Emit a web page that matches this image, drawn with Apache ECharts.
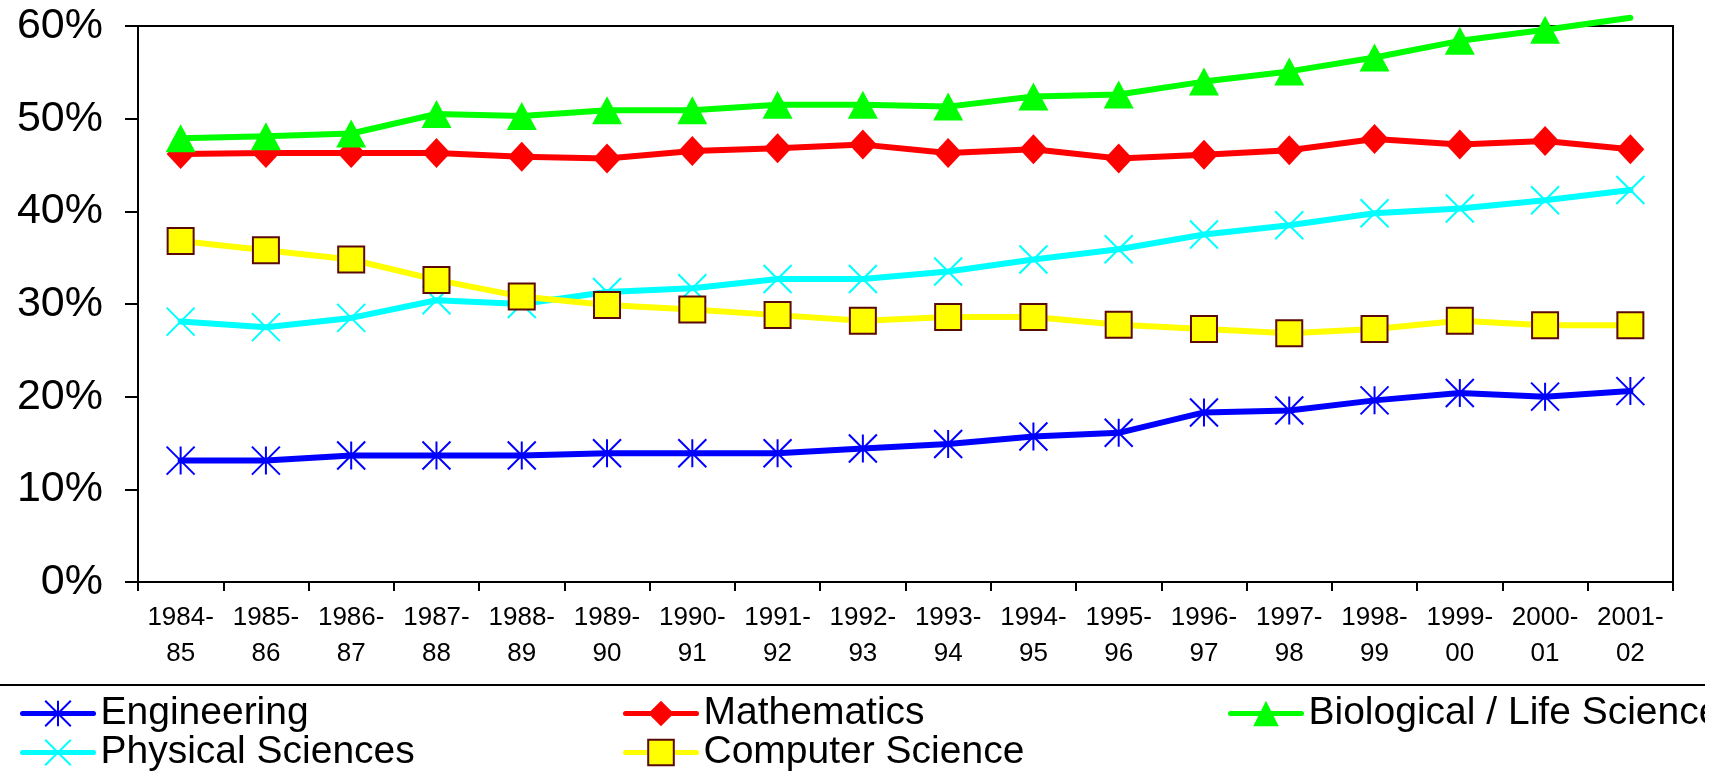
<!DOCTYPE html>
<html>
<head>
<meta charset="utf-8">
<script src="https://cdn.jsdelivr.net/npm/echarts@6/dist/echarts.min.js"></script>
<style>
  html, body { margin: 0; padding: 0; background: #fff; }
  #chart { width: 1705px; height: 771px; overflow: hidden; }
</style>
</head>
<body>
<div id="chart"></div>
<script>
// Academic years on the category axis
const years = ['1984-\n85', '1985-\n86', '1986-\n87', '1987-\n88', '1988-\n89', '1989-\n90',
  '1990-\n91', '1991-\n92', '1992-\n93', '1993-\n94', '1994-\n95', '1995-\n96',
  '1996-\n97', '1997-\n98', '1998-\n99', '1999-\n00', '2000-\n01', '2001-\n02'];

// Share of degrees earned by women, percent
const engineering = [13.1, 13.1, 13.65, 13.65, 13.65, 13.9, 13.9, 13.9, 14.4, 14.9, 15.7, 16.1, 18.3, 18.5, 19.6, 20.4, 20.0, 20.6];
const mathematics = [46.2, 46.3, 46.3, 46.3, 45.9, 45.7, 46.5, 46.8, 47.2, 46.3, 46.7, 45.7, 46.1, 46.6, 47.8, 47.2, 47.6, 46.7];
const biology = [47.9, 48.1, 48.4, 50.5, 50.3, 50.9, 50.9, 51.5, 51.5, 51.3, 52.4, 52.6, 54.0, 55.1, 56.6, 58.4, 59.6, 60.9];
const physical = [28.1, 27.5, 28.5, 30.4, 30.0, 31.3, 31.7, 32.7, 32.7, 33.5, 34.8, 35.9, 37.5, 38.5, 39.8, 40.3, 41.2, 42.3];
const computer = [36.8, 35.8, 34.8, 32.6, 30.8, 29.9, 29.4, 28.8, 28.2, 28.6, 28.6, 27.75, 27.3, 26.85, 27.3, 28.2, 27.7, 27.7];

const yTicks = { min: 0, max: 60, step: 10 };

const FONT = '"Liberation Sans", Arial, sans-serif';

// Points above the axis maximum keep their line but lose their marker
function withOffscaleMarkersHidden(values) {
  return values.map(v => (v > yTicks.max ? { value: v, symbol: 'none' } : v));
}

function lineSeries(name, values, color, symbol, size, itemStyle) {
  return {
    name: name,
    type: 'line',
    data: withOffscaleMarkersHidden(values),
    clip: false,
    symbol: symbol,
    symbolSize: size,
    showAllSymbol: true,
    lineStyle: { color: color, width: 6, cap: 'round', join: 'round' },
    itemStyle: itemStyle,
    emphasis: { disabled: true },
    z: 3
  };
}

const asterisk = 'path://M0,0L20,20M20,0L0,20M10,0L10,20';
const cross = 'path://M0,0L20,20M20,0L0,20';

const series = [
  lineSeries('Engineering', engineering, '#0000ff', asterisk, 28,
    { color: 'rgba(0,0,0,0)', borderColor: '#0000ff', borderWidth: 2 }),
  lineSeries('Mathematics', mathematics, '#ff0000', 'diamond', [28, 30],
    { color: '#ff0000' }),
  lineSeries('Biological / Life Sciences', biology, '#00ff00', 'triangle', [30, 28],
    { color: '#00ff00' }),
  lineSeries('Physical Sciences', physical, '#00ffff', cross, 28,
    { color: 'rgba(0,0,0,0)', borderColor: '#00ffff', borderWidth: 2 }),
  lineSeries('Computer Science', computer, '#ffff00', 'rect', [26, 26],
    { color: '#ffff00', borderColor: '#5a0a0a', borderWidth: 2 })
];

// One legend block per column, stacked two rows deep
function legendColumn(left, names) {
  return {
    orient: 'vertical',
    left: left,
    top: 694,
    height: 120,
    itemWidth: 71,
    itemHeight: 32,
    itemGap: 0,
    padding: 0,
    data: names,
    selectedMode: false,
    lineStyle: { width: 5, cap: 'round' },
    textStyle: {
      fontFamily: FONT, fontSize: 39, color: '#000', lineHeight: 38,
      padding: [0, 0, 0, 2]
    }
  };
}

const chart = echarts.init(document.getElementById('chart'), null, { renderer: 'canvas' });

chart.setOption({
  animation: false,
  backgroundColor: '#ffffff',
  grid: {
    left: 138, top: 26, width: 1535, height: 556,
    show: true, borderColor: '#000', borderWidth: 2, backgroundColor: 'transparent'
  },
  legend: [
    legendColumn(20, ['Engineering', 'Physical Sciences']),
    legendColumn(623, ['Mathematics', 'Computer Science']),
    legendColumn(1228, ['Biological / Life Sciences'])
  ],
  xAxis: {
    type: 'category',
    data: years,
    boundaryGap: true,
    axisLine: { lineStyle: { color: '#000', width: 2 } },
    axisTick: { show: true, length: 9, lineStyle: { color: '#000', width: 2 } },
    axisLabel: {
      interval: 0, margin: 18, color: '#000',
      fontFamily: FONT, fontSize: 26, lineHeight: 36
    },
    splitLine: { show: false }
  },
  yAxis: {
    type: 'value',
    min: yTicks.min, max: yTicks.max, interval: yTicks.step,
    axisLine: { show: true, lineStyle: { color: '#000', width: 2 } },
    axisTick: { show: true, length: 13, lineStyle: { color: '#000', width: 2 } },
    axisLabel: {
      formatter: '{value}%', margin: 35, color: '#000',
      fontFamily: FONT, fontSize: 43
    },
    splitLine: { show: false }
  },
  graphic: [{
    type: 'line',
    shape: { x1: 0, y1: 685, x2: 1705, y2: 685 },
    style: { stroke: '#000', lineWidth: 2 },
    silent: true
  }],
  series: series
});
</script>
</body>
</html>
